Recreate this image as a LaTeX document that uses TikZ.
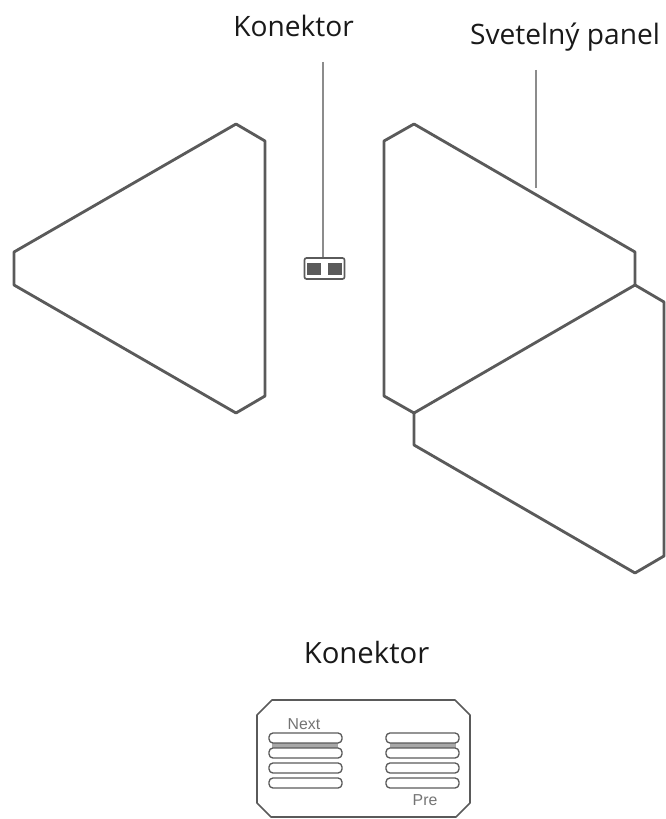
\documentclass[tikz,border=0pt]{standalone}
\usepackage{fontspec}
\setmainfont{Open Sans}
\setsansfont{Liberation Sans}
\definecolor{panelink}{HTML}{5A5A5A}
\definecolor{leadergray}{HTML}{8C8C8C}
\definecolor{slotgray}{HTML}{A8A8A8}
\tikzset{
  panelline/.style={panelink,line width=.85mm,line join=round},
  leaderline/.style={leadergray,line width=.5mm},
  caption/.style={font=\fontsize{24}{28}\selectfont,text=black!90,inner sep=0pt,anchor=base},
  slotbox/.style={panelink,line width=.4mm,rounded corners=1.2mm},
  tinylabel/.style={font=\sffamily\fontsize{13.5}{15}\selectfont,text=black!55,inner sep=0pt,anchor=base}
}

\begin{document}
\begin{tikzpicture}[x=.03cm,y=-.03cm]
        \useasboundingbox (0,0) rectangle (665,819);

        % captions
        \node[caption] (konektortop) at (293.5,36.5) {Konektor};
        \node[caption] (panellabel) at (565,45) {Svetelný panel};
        \node[caption,font=\fontsize{25}{30}\selectfont] (konektorbottom) at (366.5,663) {Konektor};

        % left panel
        \draw[panelline] (236,124) -- (265,141) -- (265,396) -- (236,413) -- (14,285) -- (14,252) -- cycle;

        % right panels
        \draw[panelline] (414,124) -- (635,252) -- (635,285) -- (414,413) -- (384,396) -- (384,141) -- cycle;
        \draw[panelline] (635,285) -- (664,302) -- (664,556) -- (635,573) -- (414,445) -- (414,413);

        % small connector
        \node[draw=panelink,line width=.5mm,rounded corners=.6mm,minimum width=1.2cm,minimum height=.63cm,inner sep=0pt] (smallconn) at (324.5,268.5) {};
        \fill[panelink] (307,263) rectangle (321,275);
        \fill[panelink] (328,263) rectangle (342,275);

        % leaders
        \coordinate (konektorstart) at (323,62);
        \coordinate (panelstart) at (536,70);
        \coordinate (paneledge) at (536,188);
        \draw[leaderline] (konektorstart) -- (konektorstart |- smallconn.north);
        \draw[leaderline] (panelstart) -- (paneledge);

        % large connector
        \draw[panelline,line width=.5mm] (272,700) -- (455,700) -- (470,715) -- (470,803) -- (456,817) -- (271,817) -- (257,803) -- (257,715) -- cycle;
        \fill[slotgray] (272,743) rectangle (338,748);
        \fill[slotgray] (390,743) rectangle (456,748);
        \foreach \y in {738,753,768,783} {
          \draw[slotbox] (269,\y-5) rectangle (342,\y+5);
          \draw[slotbox] (386,\y-5) rectangle (459,\y+5);
        }
        \node[tinylabel] (nextlabel) at (304,729) {Next};
        \node[tinylabel] (prelabel) at (425,805) {Pre};
      \end{tikzpicture}
\end{document}
